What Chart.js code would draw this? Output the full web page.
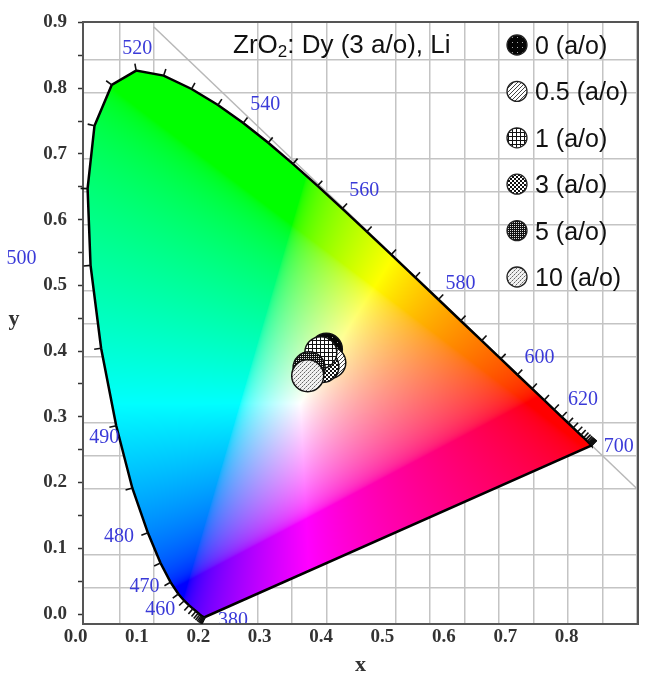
<!DOCTYPE html>
<html><head><meta charset="utf-8">
<script src="https://cdn.jsdelivr.net/npm/chart.js@4.4.1/dist/chart.umd.min.js"></script>
<style>html,body{margin:0;padding:0;background:#fff}#c{display:block}</style>
</head><body>
<canvas id="c" width="646" height="681"></canvas>
<script>
// CIE 1931 spectral locus (2 degree observer), 5 nm steps
const wavelengths = [380,385,390,395,400,405,410,415,420,425,430,435,440,445,450,455,460,465,470,475,480,485,490,495,500,505,510,515,520,525,530,535,540,545,550,555,560,565,570,575,580,585,590,595,600,605,610,615,620,625,630,635,640,645,650,655,660,665,670,675,680,685,690,695,700];
const locusX = [0.1741,0.1740,0.1738,0.1736,0.1733,0.1730,0.1726,0.1721,0.1714,0.1703,0.1689,0.1669,0.1644,0.1611,0.1566,0.1510,0.1440,0.1355,0.1241,0.1096,0.0913,0.0687,0.0454,0.0235,0.0082,0.0039,0.0139,0.0389,0.0743,0.1142,0.1547,0.1929,0.2296,0.2658,0.3016,0.3373,0.3731,0.4087,0.4441,0.4788,0.5125,0.5448,0.5752,0.6029,0.6270,0.6482,0.6658,0.6801,0.6915,0.7006,0.7079,0.7140,0.7190,0.7230,0.7260,0.7283,0.7300,0.7311,0.7320,0.7327,0.7334,0.7340,0.7344,0.7346,0.7347];
const locusY = [0.0050,0.0050,0.0049,0.0049,0.0048,0.0048,0.0048,0.0048,0.0051,0.0058,0.0069,0.0086,0.0109,0.0138,0.0177,0.0227,0.0297,0.0399,0.0578,0.0868,0.1327,0.2007,0.2950,0.4127,0.5384,0.6548,0.7502,0.8120,0.8338,0.8262,0.8059,0.7816,0.7543,0.7243,0.6923,0.6589,0.6245,0.5896,0.5547,0.5202,0.4866,0.4544,0.4242,0.3965,0.3725,0.3514,0.3340,0.3197,0.3083,0.2993,0.2920,0.2859,0.2809,0.2770,0.2740,0.2717,0.2700,0.2689,0.2680,0.2673,0.2666,0.2660,0.2656,0.2654,0.2653];
const wlLabelList = [380,460,470,480,490,500,520,540,560,580,600,620,700];

// Samples: ZrO2:Dy (3 a/o), Li
const seriesLabels = ['0 (a/o)','0.5 (a/o)','1 (a/o)','3 (a/o)','5 (a/o)','10 (a/o)'];
const seriesX = [0.350,0.355,0.342,0.345,0.325,0.323];
const seriesY = [0.411,0.391,0.406,0.385,0.383,0.371];

// axis tick labels
const xTickValues = [0,0.1,0.2,0.3,0.4,0.5,0.6,0.7,0.8];
const xTickLabels = ['0.0','0.1','0.2','0.3','0.4','0.5','0.6','0.7','0.8'];
const yTickValues = [0,0.05,0.1,0.15,0.2,0.25,0.3,0.35,0.4,0.45,0.5,0.55,0.6,0.65,0.7,0.75,0.8,0.85,0.9];
const yLabelValues = [0,0.1,0.2,0.3,0.4,0.5,0.6,0.7,0.8,0.9];
const yTickLabels = ['0.0','0.1','0.2','0.3','0.4','0.5','0.6','0.7','0.8','0.9'];

// diagram grid lines (chromaticity coordinates)
const gridX = [0.05,0.10,0.25,0.30,0.35,0.45,0.50,0.55,0.60,0.65,0.70,0.75,0.80];
const gridY = [0.05,0.10,0.20,0.25,0.30,0.40,0.45,0.50,0.60,0.65,0.70,0.80,0.85];
// x + y = 1 line
const diagX = [0.1,0.8];
const diagY = [0.9,0.2];

const titleParts = ['ZrO','2',': Dy (3 a/o), Li'];
const xTitle = 'x', yTitle = 'y';

// ---------- patterns ----------
function makePattern(kind){
  const c = document.createElement('canvas'); const g = c.getContext('2d');
  const px = (x,y,col)=>{g.fillStyle=col; g.fillRect(x,y,1,1);};
  const bg = (s,col)=>{c.width=c.height=s; g.fillStyle=col; g.fillRect(0,0,s,s);};
  if(kind===0){ bg(5,'#050505'); px(2,2,'#aaa'); }
  else if(kind===1){ bg(4,'#fff'); for(let k=0;k<4;k++){px(k,3-k,'#444');} }
  else if(kind===2){ bg(4,'#fff'); g.fillStyle='#111'; g.fillRect(0,0,4,1); g.fillRect(0,0,1,4); }
  else if(kind===3){ bg(4,'#fff'); g.fillStyle='#111'; g.fillRect(0,0,2,2); g.fillRect(2,2,2,2); }
  else if(kind===4){ bg(2,'#111'); px(0,0,'#ddd'); }
  else { bg(4,'#f2f2f2'); px(0,0,'#666'); px(2,2,'#666'); px(1,3,'#aaa'); px(3,1,'#aaa'); }
  return g.createPattern(c,'repeat');
}
const patterns = seriesLabels.map((_,i)=>makePattern(i));
const drawOrder = [6,5,3,4,2,1];

// ---------- colour fill of the horseshoe ----------
function cieColor(x,y){
  if(y<=1e-4) return [0,0,0];
  const X=x/y, Y=1, Z=(1-x-y)/y;
  let r= 3.2406*X-1.5372*Y-0.4986*Z;
  let g=-0.9689*X+1.8758*Y+0.0415*Z;
  let b= 0.0557*X-0.2040*Y+1.0570*Z;
  r=Math.max(r,0); g=Math.max(g,0); b=Math.max(b,0);
  const m=Math.max(r,g,b)||1; r/=m; g/=m; b/=m;
  const enc=v=>v<=0.0031308?12.92*v:1.055*Math.pow(v,1/2.4)-0.055;
  return [enc(r)*255,enc(g)*255,enc(b)*255];
}
function locusPath(ctx, xs, ys){
  ctx.beginPath();
  for(let i=0;i<locusX.length;i++){
    const px=xs.getPixelForValue(locusX[i]), py=ys.getPixelForValue(locusY[i]);
    if(i===0) ctx.moveTo(px,py); else ctx.lineTo(px,py);
  }
  ctx.closePath();
}
const fillPlugin = {
  id:'cieFill',
  beforeDatasetsDraw(chart){
    const {ctx, chartArea:a, scales} = chart; const xs=scales.x, ys=scales.y;
    const w=Math.ceil(a.right-a.left), h=Math.ceil(a.bottom-a.top);
    if(!this.off || this.off.width!==w || this.off.height!==h){
      const off=document.createElement('canvas'); off.width=w; off.height=h;
      const oc=off.getContext('2d'); const img=oc.createImageData(w,h);
      const colV=[], rowV=[];
      for(let i=0;i<w;i++) colV.push(xs.getValueForPixel(a.left+i+0.5));
      for(let j=0;j<h;j++) rowV.push(ys.getValueForPixel(a.top+j+0.5));
      for(let j=0;j<h;j++){
        for(let i=0;i<w;i++){
          const c=cieColor(colV[i],rowV[j]); const k=(j*w+i)*4;
          img.data[k]=c[0]; img.data[k+1]=c[1]; img.data[k+2]=c[2]; img.data[k+3]=255;
        }
      }
      oc.putImageData(img,0,0); this.off=off;
    }
    ctx.save(); locusPath(ctx,xs,ys); ctx.clip(); ctx.drawImage(this.off,a.left,a.top); ctx.restore();
  }
};

// ---------- tick marks & wavelength labels on the locus ----------
const wlOffsets = {380:[28,4],460:[-24,9],470:[-26,5],480:[-29,4],490:[-12,12],500:[-69,-7],520:[1,-22],540:[22,-18],560:[22,-18],580:[22,-16],600:[22,-17],620:[21,-17],700:[27,1]};
const decorPlugin = {
  id:'locusDecor',
  afterDatasetsDraw(chart){
    const {ctx, chartArea:a, scales} = chart; const xs=scales.x, ys=scales.y;
    const P = locusX.map((v,i)=>[xs.getPixelForValue(v), ys.getPixelForValue(locusY[i])]);
    const n=P.length;
    ctx.save(); ctx.strokeStyle='#111'; ctx.lineWidth=1.6;
    for(let i=0;i<n;i++){
      let k=1, p0, p1;
      while(true){
        p0=P[Math.max(0,i-k)]; p1=P[Math.min(n-1,i+k)];
        if(Math.hypot(p1[0]-p0[0],p1[1]-p0[1])>4 || k>20) break; k++;
      }
      let dx=p1[0]-p0[0], dy=p1[1]-p0[1]; const L=Math.hypot(dx,dy)||1; dx/=L; dy/=L;
      const nx=dy, ny=-dx; const len=7;
      ctx.beginPath(); ctx.moveTo(P[i][0],P[i][1]); ctx.lineTo(P[i][0]+nx*len,P[i][1]+ny*len); ctx.stroke();
    }
    ctx.restore();
    ctx.save();
    ctx.beginPath(); ctx.rect(0,0,chart.width,a.bottom-1); ctx.clip();
    ctx.font='20px "Liberation Serif", serif'; ctx.fillStyle='#3a3ad8'; ctx.textAlign='center'; ctx.textBaseline='middle';
    wlLabelList.forEach(wl=>{
      const i=wavelengths.indexOf(wl); const o=wlOffsets[wl]||[0,0];
      ctx.fillText(String(wl), P[i][0]+o[0], P[i][1]+o[1]);
    });
    ctx.restore();
  }
};

// ---------- title, legend, y title ----------
const overlayPlugin = {
  id:'overlay',
  afterDraw(chart){
    const {ctx} = chart;
    ctx.save();
    ctx.fillStyle='#111'; ctx.textBaseline='alphabetic'; ctx.textAlign='left';
    let tx=233; const ty=53;
    ctx.font='26px "Liberation Sans", Arial, sans-serif'; ctx.fillText(titleParts[0],tx,ty); tx+=ctx.measureText(titleParts[0]).width;
    ctx.font='17px "Liberation Sans", Arial, sans-serif'; ctx.fillText(titleParts[1],tx,ty+4); tx+=ctx.measureText(titleParts[1]).width;
    ctx.font='26px "Liberation Sans", Arial, sans-serif'; ctx.fillText(titleParts[2],tx,ty);
    const samples = chart.data.datasets.filter(d=>d.isSample);
    samples.forEach((d,i)=>{
      const cx=517, cy=45+i*46.4;
      ctx.beginPath(); ctx.arc(cx,cy,10,0,Math.PI*2); ctx.fillStyle=d.backgroundColor; ctx.fill();
      ctx.lineWidth=1.3; ctx.strokeStyle='#222'; ctx.stroke();
      ctx.fillStyle='#111'; ctx.font='25px "Liberation Sans", Arial, sans-serif';
      ctx.fillText(d.label, 535, cy+9);
    });
    ctx.font='bold 22px "Liberation Serif", serif'; ctx.fillStyle='#333'; ctx.textAlign='center';
    ctx.fillText(yTitle, 14, 325);
    ctx.restore();
  }
};

const tickFont = {family:'"Liberation Serif", serif', size:19, weight:'bold'};
const chart = new Chart(document.getElementById('c'), {
  type:'scatter',
  data:{datasets:[
    {label:'locus', data: locusX.map((v,i)=>({x:v,y:locusY[i]})).concat([{x:locusX[0],y:locusY[0]}]),
     showLine:true, borderColor:'#000', borderWidth:2.5, pointRadius:0, order:20, tension:0},
    {label:'x+y=1', data: diagX.map((v,i)=>({x:v,y:diagY[i]})), showLine:true, borderColor:'#b8b8b8', borderWidth:1.5, pointRadius:0, order:21},
    ...seriesLabels.map((lab,i)=>({label:lab, isSample:true, data:[{x:seriesX[i],y:seriesY[i]}],
      backgroundColor:patterns[i], borderColor:'#111', borderWidth:1.5, pointRadius:16, pointHoverRadius:16, order:drawOrder[i]}))
  ]},
  options:{
    responsive:false, animation:false, events:[],
    layout:{autoPadding:false, padding:{left:0,top:21,right:0,bottom:0}},
    plugins:{legend:{display:false}, tooltip:{enabled:false}},
    scales:{
      x:{type:'linear', position:'top', min:-0.00275, max:0.8018,
        afterBuildTicks:s=>{s.ticks=gridX.map(v=>({value:v}));}, afterFit:s=>{s.height=0;},
        ticks:{display:false}, grid:{color:'#c4c4c4', lineWidth:1.5, drawTicks:false},
        border:{display:true,color:'#555',width:2}},
      y:{type:'linear', position:'right', min:-0.0056, max:0.9069,
        afterBuildTicks:s=>{s.ticks=gridY.map(v=>({value:v}));}, afterFit:s=>{s.width=8;},
        ticks:{display:false}, grid:{color:'#c4c4c4', lineWidth:1.5, drawTicks:false},
        border:{display:true,color:'#555',width:2}},
      xl:{type:'linear', position:'bottom', min:0, max:0.904,
        afterBuildTicks:s=>{s.ticks=xTickValues.map(v=>({value:v}));}, afterFit:s=>{s.height=57;},
        ticks:{autoSkip:false, maxRotation:0, padding:2, labelOffset:-7.5, color:'#333', font:tickFont,
          callback:(v)=>{const i=xTickValues.findIndex(t=>Math.abs(t-v)<1e-9); return i>=0?xTickLabels[i]:'';}},
        grid:{display:false, drawTicks:false},
        border:{display:true,color:'#555',width:2},
        title:{display:true, text:xTitle, color:'#333', font:{family:'"Liberation Serif", serif', size:22, weight:'bold'}, padding:{top:0,bottom:2}}},
      yl:{type:'linear', position:'left', min:-0.01517, max:0.9,
        afterBuildTicks:s=>{s.ticks=yTickValues.map(v=>({value:v}));}, afterFit:s=>{s.width=83;},
        ticks:{autoSkip:false, padding:11, color:'#333', font:tickFont,
          callback:(v)=>{const i=yLabelValues.findIndex(t=>Math.abs(t-v)<1e-9); return i>=0?yTickLabels[i]:'';}},
        grid:{display:true, drawOnChartArea:false, drawTicks:true, tickLength:5, tickColor:'#333', tickWidth:1.5},
        border:{display:true,color:'#555',width:2}}
    }
  },
  plugins:[fillPlugin, decorPlugin, overlayPlugin]
});
</script>
</body></html>
